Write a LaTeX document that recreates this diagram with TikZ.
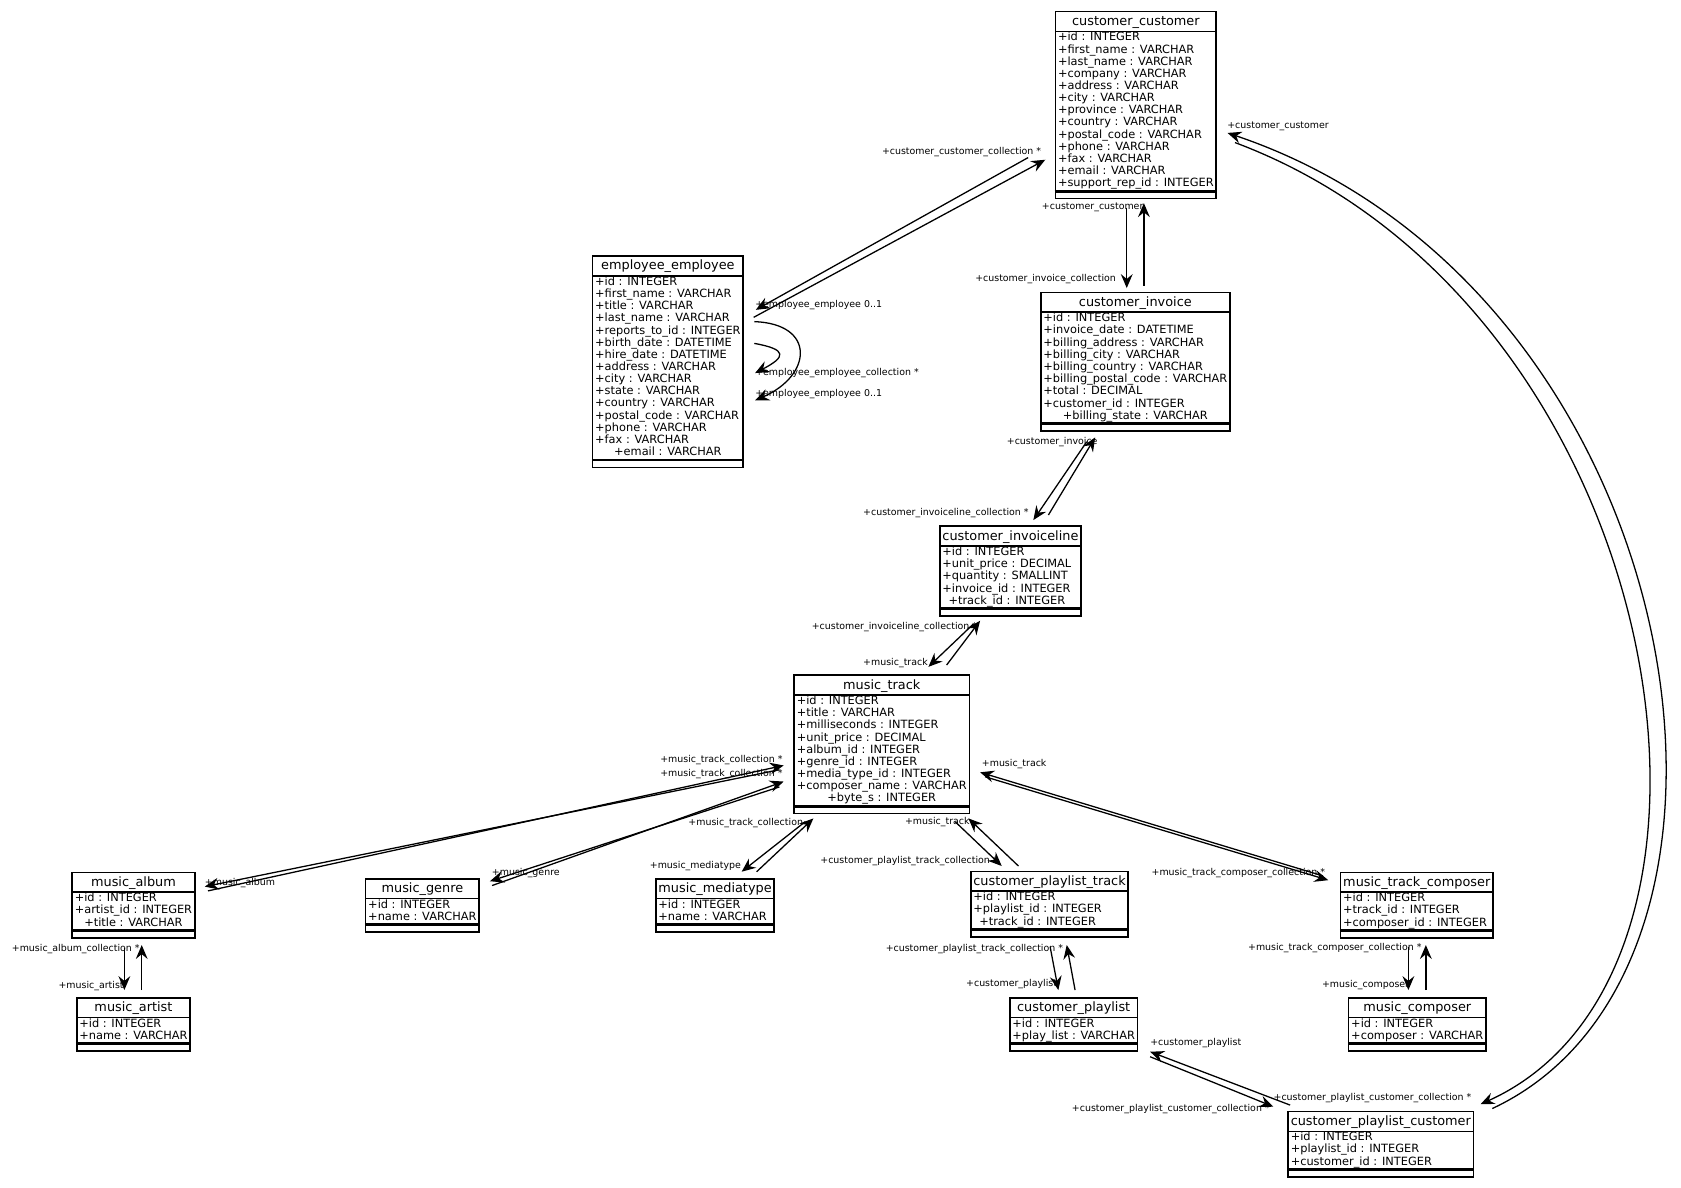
\documentclass[tikz,border=0pt]{standalone}
\usepackage{fontspec}
\setmainfont{DejaVu Sans}
\usetikzlibrary{shapes.multipart,arrows.meta,calc}
\newcommand{\titlefont}{\fontsize{12}{14}\selectfont}
\newcommand{\attrfont}{\fontsize{10.6}{11.1}\selectfont}
\newcommand{\lblfont}{\fontsize{8.8}{10}\selectfont}
\newcommand{\ttl}[1]{{\titlefont\rule[-4.8pt]{0pt}{17pt}#1}}
\newcommand{\clsattrs}[2]{{\attrfont\begin{tabular}{@{}l@{}}#1\multicolumn{1}{@{}c@{}}{#2}\end{tabular}}}
\tikzset{
  cls/.style={draw, line width=1.5pt, rectangle split, rectangle split parts=3,
    rectangle split part align={center,left,center},
    rectangle split empty part height=1.8pt, inner xsep=2.4pt, inner ysep=0pt,
    anchor=north, fill=white},
  rel/.style={line width=1.2pt, -{Stealth[length=13pt,width=11pt,inset=4.5pt]}},
  lbl/.style={font=\lblfont, inner sep=0pt, anchor=west},
}
\begin{document}
\begin{tikzpicture}[x=1pt,y=-1pt]
\fill[white] (0,0) rectangle (1568,1108);
\useasboundingbox (0,0) rectangle (1568,1108);

% classes
\node[cls] (cc) at (1059.5,10) {\ttl{customer\_customer}\nodepart{two}\clsattrs{+id : INTEGER\\ +first\_name : VARCHAR\\ +last\_name : VARCHAR\\ +company : VARCHAR\\ +address : VARCHAR\\ +city : VARCHAR\\ +province : VARCHAR\\ +country : VARCHAR\\ +postal\_code : VARCHAR\\ +phone : VARCHAR\\ +fax : VARCHAR\\ +email : VARCHAR\\}{+support\_rep\_id : INTEGER}\nodepart{three}};
\node[cls] (ee) at (623,238) {\ttl{employee\_employee}\nodepart{two}\clsattrs{+id : INTEGER\\ +first\_name : VARCHAR\\ +title : VARCHAR\\ +last\_name : VARCHAR\\ +reports\_to\_id : INTEGER\\ +birth\_date : DATETIME\\ +hire\_date : DATETIME\\ +address : VARCHAR\\ +city : VARCHAR\\ +state : VARCHAR\\ +country : VARCHAR\\ +postal\_code : VARCHAR\\ +phone : VARCHAR\\ +fax : VARCHAR\\}{+email : VARCHAR}\nodepart{three}};
\node[cls] (ci) at (1059,272) {\ttl{customer\_invoice}\nodepart{two}\clsattrs{+id : INTEGER\\ +invoice\_date : DATETIME\\ +billing\_address : VARCHAR\\ +billing\_city : VARCHAR\\ +billing\_country : VARCHAR\\ +billing\_postal\_code : VARCHAR\\ +total : DECIMAL\\ +customer\_id : INTEGER\\}{+billing\_state : VARCHAR}\nodepart{three}};
\node[cls] (cil) at (942.5,490) {\ttl{customer\_invoiceline}\nodepart{two}\clsattrs{+id : INTEGER\\ +unit\_price : DECIMAL\\ +quantity : SMALLINT\\ +invoice\_id : INTEGER\\}{+track\_id : INTEGER}\nodepart{three}};
\node[cls] (mt) at (822.5,629) {\ttl{music\_track}\nodepart{two}\clsattrs{+id : INTEGER\\ +title : VARCHAR\\ +milliseconds : INTEGER\\ +unit\_price : DECIMAL\\ +album\_id : INTEGER\\ +genre\_id : INTEGER\\ +media\_type\_id : INTEGER\\ +composer\_name : VARCHAR\\}{+byte\_s : INTEGER}\nodepart{three}};
\node[cls] (alb) at (124.5,813) {\ttl{music\_album}\nodepart{two}\clsattrs{+id : INTEGER\\ +artist\_id : INTEGER\\}{+title : VARCHAR}\nodepart{three}};
\node[cls] (gen) at (394,819) {\ttl{music\_genre}\nodepart{two}\clsattrs{+id : INTEGER\\}{+name : VARCHAR}\nodepart{three}};
\node[cls] (med) at (667,819) {\ttl{music\_mediatype}\nodepart{two}\clsattrs{+id : INTEGER\\}{+name : VARCHAR}\nodepart{three}};
\node[cls] (cpt) at (979,812) {\ttl{customer\_playlist\_track}\nodepart{two}\clsattrs{+id : INTEGER\\ +playlist\_id : INTEGER\\}{+track\_id : INTEGER}\nodepart{three}};
\node[cls] (mtc) at (1321.5,813) {\ttl{music\_track\_composer}\nodepart{two}\clsattrs{+id : INTEGER\\ +track\_id : INTEGER\\}{+composer\_id : INTEGER}\nodepart{three}};
\node[cls] (art) at (124.5,930) {\ttl{music\_artist}\nodepart{two}\clsattrs{+id : INTEGER\\}{+name : VARCHAR}\nodepart{three}};
\node[cls] (cpl) at (1001.5,930) {\ttl{customer\_playlist}\nodepart{two}\clsattrs{+id : INTEGER\\}{+play\_list : VARCHAR}\nodepart{three}};
\node[cls] (comp) at (1322,930) {\ttl{music\_composer}\nodepart{two}\clsattrs{+id : INTEGER\\}{+composer : VARCHAR}\nodepart{three}};
\node[cls] (cpc) at (1288,1036) {\ttl{customer\_playlist\_customer}\nodepart{two}\clsattrs{+id : INTEGER\\ +playlist\_id : INTEGER\\}{+customer\_id : INTEGER}\nodepart{three}};

\foreach \n in {cc,ee,ci,cil,mt,alb,gen,med,cpt,mtc,art,cpl,comp,cpc}
  \draw[line width=2.4pt] (\n.two split west) -- (\n.two split east);

% relations
% customer_customer <-> employee_employee
\draw[rel] ($(cc.north)+(-100.5,137)$) -- ($(ee.north)+(82,51)$);
\draw[rel] ($(ee.north)+(80,58)$) -- ($(cc.north)+(-84.5,139)$);
% employee self relations
\draw[rel] ($(ee.north)+(80.6,82.3)$) .. controls ($(ee.north)+(112,88)$) and ($(ee.north)+(110,95)$) .. ($(ee.north)+(81.3,110)$);
\draw[rel] ($(ee.north)+(80.6,62)$) .. controls ($(ee.north)+(138,64)$) and ($(ee.north)+(135,112)$) .. ($(ee.north)+(81.3,135.5)$);
% customer_customer <-> customer_invoice
\draw[rel] ($(cc.north)+(-8.5,184)$) -- ($(ci.north)+(-8,-3.3)$);
\draw[rel] ($(ci.north)+(8,-5.5)$) -- ($(cc.north)+(7.5,179.5)$);
% customer_invoice <-> customer_invoiceline
\draw[rel] ($(ci.north)+(-45.3,140)$) -- ($(cil.north)+(21.4,-4.9)$);
\draw[rel] ($(cil.north)+(35.4,-9.6)$) -- ($(ci.north)+(-37.5,136)$);
% customer_invoiceline <-> music_track
\draw[rel] ($(cil.north)+(-34.5,92)$) -- ($(mt.north)+(43.5,-7)$);
\draw[rel] ($(mt.north)+(60.5,-8.7)$) -- ($(cil.north)+(-28.3,89)$);
% music_track <-> music_album
\draw[rel] ($(mt.north)+(-95.5,89)$) -- ($(alb.north)+(66.5,14)$);
\draw[rel] ($(alb.north)+(69.5,18)$) -- ($(mt.north)+(-91.5,85)$);
% music_track <-> music_genre
\draw[rel] ($(mt.north)+(-95.5,105)$) -- ($(gen.north)+(63,3)$);
\draw[rel] ($(gen.north)+(65,7)$) -- ($(mt.north)+(-91.5,100)$);
% music_track <-> music_mediatype
\draw[rel] ($(mt.north)+(-71.5,137.5)$) -- ($(med.north)+(24.8,-5.9)$);
\draw[rel] ($(med.north)+(38.8,-5.9)$) -- ($(mt.north)+(-63.8,134.4)$);
% music_track <-> customer_playlist_track
\draw[rel] ($(mt.north)+(68.5,137.5)$) -- ($(cpt.north)+(-44.6,-4.2)$);
\draw[rel] ($(cpt.north)+(-29,-4.2)$) -- ($(mt.north)+(80.8,134.4)$);
% music_track <-> music_track_composer
\draw[rel] ($(mtc.north)+(-87.5,4)$) -- ($(mt.north)+(91.7,91.4)$);
\draw[rel] ($(mt.north)+(96.3,95.5)$) -- ($(mtc.north)+(-82.5,8)$);
% music_album <-> music_artist
\draw[rel] ($(alb.north)+(-8.5,71.6)$) -- ($(art.north)+(-8.5,-6.5)$);
\draw[rel] ($(art.north)+(7.7,-6.5)$) -- ($(alb.north)+(7.7,68.5)$);
% customer_playlist_track <-> customer_playlist
\draw[rel] ($(cpt.north)+(0.5,71)$) -- ($(cpl.north)+(-14.3,-6.5)$);
\draw[rel] ($(cpl.north)+(1.3,-6.5)$) -- ($(cpt.north)+(16,69.5)$);
% music_track_composer <-> music_composer
\draw[rel] ($(mtc.north)+(-7.8,70)$) -- ($(comp.north)+(-8.3,-6.5)$);
\draw[rel] ($(comp.north)+(8,-6.5)$) -- ($(mtc.north)+(8.5,68.5)$);
% customer_playlist <-> customer_playlist_customer
\draw[rel] ($(cpl.north)+(71.3,55.7)$) -- ($(cpc.north)+(-100.2,-3.7)$);
\draw[rel] ($(cpc.north)+(-84.6,-5.2)$) -- ($(cpl.north)+(71.3,51)$);
% customer_customer <-> customer_playlist_customer
\draw[rel] ($(cc.north)+(92.5,123)$) .. controls (1558,285) and (1658,905) .. ($(cpc.north)+(93,-6)$);
\draw[rel] ($(cpc.north)+(104,-2)$) .. controls (1678,900) and (1578,270) .. ($(cc.north)+(85.5,114)$);

% role labels
\node[lbl] (l1) at (822.5,141.5) {+customer\_customer\_collection *};
\node[lbl] (l2) at (704.3,284.5) {+employee\_employee 0..1};
\node[lbl] (l3) at (704.3,348) {+employee\_employee\_collection *};
\node[lbl] (l4) at (704.3,367.5) {+employee\_employee 0..1};
\node[lbl] (l5) at (909.5,260.6) {+customer\_invoice\_collection};
\node[lbl] (l6) at (971.7,193.4) {+customer\_customer};
\node[lbl] (l7) at (1144.6,118.2) {+customer\_customer};
\node[lbl] (l8) at (939,412) {+customer\_invoice};
\node[lbl] (l9) at (805,478.7) {+customer\_invoiceline\_collection *};
\node[lbl] (l10) at (757,584.6) {+customer\_invoiceline\_collection *};
\node[lbl] (l11) at (805,618.5) {+music\_track};
\node[lbl] (l12) at (615.7,709) {+music\_track\_collection *};
\node[lbl] (l13) at (615.7,722) {+music\_track\_collection *};
\node[lbl] (l14) at (191,823.4) {+music\_album};
\node[lbl] (l15) at (458.7,814.7) {+music\_genre};
\node[lbl] (l16) at (642,768) {+music\_track\_collection};
\node[lbl] (l17) at (606,808) {+music\_mediatype};
\node[lbl] (l18) at (844,767) {+music\_track};
\node[lbl] (l19) at (765,803) {+customer\_playlist\_track\_collection *};
\node[lbl] (l20) at (915.7,713) {+music\_track};
\node[lbl] (l21) at (1074,814.7) {+music\_track\_composer\_collection *};
\node[lbl] (l22) at (10.9,885.6) {+music\_album\_collection *};
\node[lbl] (l23) at (54.4,919.5) {+music\_artist};
\node[lbl] (l24) at (826,885) {+customer\_playlist\_track\_collection *};
\node[lbl] (l25) at (901,918) {+customer\_playlist};
\node[lbl] (l26) at (1164,884.4) {+music\_track\_composer\_collection *};
\node[lbl] (l27) at (1233,918.8) {+music\_composer};
\node[lbl] (l28) at (1072.8,973.2) {+customer\_playlist};
\node[lbl] (l29) at (999.7,1034.8) {+customer\_playlist\_customer\_collection *};
\node[lbl] (l30) at (1187.8,1024.6) {+customer\_playlist\_customer\_collection *};
\end{tikzpicture}
\end{document}
